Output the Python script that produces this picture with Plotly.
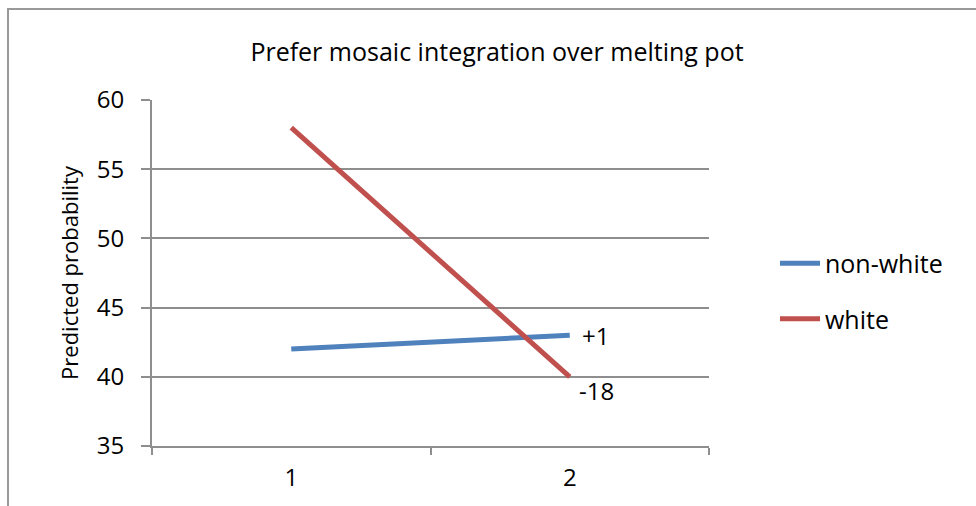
import plotly.graph_objects as go

categories = ["1", "2"]
nonwhite = [42, 43]
white = [58, 40]
change_labels = ["+1", "-18"]
title_text = "Prefer mosaic integration over melting pot"
y_title = "Predicted probability"

FONT = "Open Sans, Carlito, Calibri, sans-serif"
GRID = "#8e8e8e"
W, H = 976, 506
L, R, T, B = 152, W - 709, 100, H - 446
pw, ph = W - L - R, H - T - B

fig = go.Figure()
fig.add_trace(go.Scatter(x=categories, y=nonwhite, mode="lines", name="non-white",
                         line=dict(color="#4F81BD", width=5), legendgroup="a"))
fig.add_trace(go.Scatter(x=categories, y=white, mode="lines", name="white",
                         line=dict(color="#C0504D", width=5), legendgroup="b"))

last = categories.index(categories[-1])  # category index of the last point
fig.add_annotation(x=last, y=nonwhite[-1], text=change_labels[0], showarrow=False,
                   xanchor="left", yanchor="middle", xshift=10, yshift=0,
                   font=dict(family=FONT, size=24, color="#000"))
fig.add_annotation(x=last, y=white[-1], text=change_labels[1], showarrow=False,
                   xanchor="left", yanchor="middle", xshift=7, yshift=-14,
                   font=dict(family=FONT, size=24, color="#000"))

# chart border (cropped at right/bottom as in the reference)
fig.add_shape(type="rect", xref="paper", yref="paper",
              x0=(8 - L) / pw, x1=(W + 20 - L) / pw,
              y0=-(H + 20 - (T + ph)) / ph, y1=(T + ph - 9) / ph,
              line=dict(color="#999999", width=2), layer="below")

fig.update_layout(
    width=W, height=H,
    margin=dict(l=L, r=R, t=T, b=B),
    paper_bgcolor="white", plot_bgcolor="white",
    title=dict(text=title_text, x=497 / W, xanchor="center", y=1 - 52 / H, yanchor="middle",
               font=dict(family=FONT, size=25, color="#000")),
    xaxis=dict(type="category", range=[-0.5, 1.5], tickson="boundaries",
               showgrid=False, showline=True, linecolor=GRID, linewidth=2,
               ticks="outside", ticklen=7, tickcolor=GRID, tickwidth=2,
               ticklabelstandoff=9,
               tickfont=dict(family=FONT, size=24, color="#000"), zeroline=False),
    yaxis=dict(range=[35, 60], dtick=5, tick0=35, showgrid=True, gridcolor=GRID, gridwidth=2,
               showline=True, linecolor=GRID, linewidth=2,
               ticks="outside", ticklen=9, tickcolor=GRID, tickwidth=2,
               ticklabelstandoff=12,
               tickfont=dict(family=FONT, size=24, color="#000"), zeroline=False,
               title=dict(text=y_title, font=dict(family=FONT, size=22, color="#000"), standoff=12)),
    legend=dict(x=(775 - L) / pw, y=(446 - 291) / ph, xanchor="left", yanchor="middle",
                bgcolor="rgba(0,0,0,0)", font=dict(family=FONT, size=25, color="#000"),
                traceorder="grouped", tracegroupgap=20, itemwidth=40),
)

fig.write_html("out.html")
